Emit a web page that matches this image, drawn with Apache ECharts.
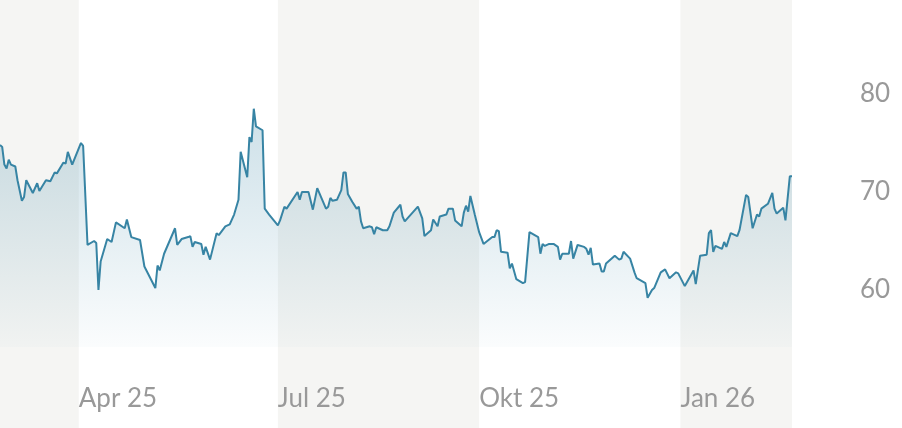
<!DOCTYPE html>
<html>
<head>
<meta charset="utf-8">
<script src="https://cdn.jsdelivr.net/npm/echarts@6/dist/echarts.min.js"></script>
<style>
html,body{margin:0;padding:0;background:#fff;}
#chart{width:902px;height:428px;}
</style>
</head>
<body>
<div id="chart"></div>
<script>
const dates = [
'2025-02-24','2025-02-25','2025-02-26','2025-02-27','2025-02-28','2025-03-01','2025-03-03','2025-03-04','2025-03-06','2025-03-07',
'2025-03-08','2025-03-11','2025-03-13','2025-03-14','2025-03-17','2025-03-19','2025-03-21','2025-03-22','2025-03-25','2025-03-26',
'2025-03-27','2025-03-29','2025-04-02','2025-04-03','2025-04-05','2025-04-08','2025-04-09','2025-04-10','2025-04-11','2025-04-14',
'2025-04-16','2025-04-18','2025-04-22','2025-04-23','2025-04-25','2025-04-29','2025-05-01','2025-05-06','2025-05-07','2025-05-08',
'2025-05-10','2025-05-15','2025-05-16','2025-05-18','2025-05-21','2025-05-22','2025-05-23','2025-05-24','2025-05-27','2025-05-28',
'2025-05-29','2025-05-31','2025-06-03','2025-06-04','2025-06-07','2025-06-09','2025-06-11','2025-06-13','2025-06-14','2025-06-17',
'2025-06-18','2025-06-19','2025-06-20','2025-06-21','2025-06-24','2025-06-25','2025-06-27','2025-07-01','2025-07-02','2025-07-04',
'2025-07-05','2025-07-10','2025-07-11','2025-07-12','2025-07-15','2025-07-17','2025-07-19','2025-07-23','2025-07-24','2025-07-25',
'2025-07-26','2025-07-28','2025-07-30','2025-07-31','2025-08-01','2025-08-02','2025-08-04','2025-08-06','2025-08-07','2025-08-08',
'2025-08-09','2025-08-12','2025-08-13','2025-08-14','2025-08-15','2025-08-18','2025-08-20','2025-08-21','2025-08-23','2025-08-26',
'2025-08-27','2025-08-28','2025-09-03','2025-09-05','2025-09-06','2025-09-09','2025-09-10','2025-09-12','2025-09-13','2025-09-16',
'2025-09-17','2025-09-19','2025-09-20','2025-09-23','2025-09-24','2025-09-25','2025-09-26','2025-09-27','2025-09-29','2025-10-01',
'2025-10-03','2025-10-07','2025-10-08','2025-10-09','2025-10-10','2025-10-11','2025-10-14','2025-10-15','2025-10-16','2025-10-18',
'2025-10-21','2025-10-22','2025-10-24','2025-10-28','2025-10-29','2025-10-30','2025-10-31','2025-11-02','2025-11-04','2025-11-06',
'2025-11-07','2025-11-08','2025-11-11','2025-11-12','2025-11-13','2025-11-15','2025-11-18','2025-11-19','2025-11-20','2025-11-21',
'2025-11-22','2025-11-25','2025-11-26','2025-11-27','2025-11-28','2025-12-02','2025-12-04','2025-12-05','2025-12-06','2025-12-09',
'2025-12-11','2025-12-12','2025-12-16','2025-12-17','2025-12-19','2025-12-20','2025-12-23','2025-12-25','2025-12-27','2025-12-30',
'2025-12-31','2026-01-03','2026-01-07','2026-01-08','2026-01-10','2026-01-13','2026-01-14','2026-01-15','2026-01-16','2026-01-17',
'2026-01-20','2026-01-21','2026-01-22','2026-01-24','2026-01-26','2026-01-27','2026-01-28','2026-01-31','2026-02-01','2026-02-03',
'2026-02-05','2026-02-06','2026-02-07','2026-02-10','2026-02-12','2026-02-13','2026-02-14','2026-02-17','2026-02-18','2026-02-20',
'2026-02-21'
];
const prices = [
74.8,74.6,72.8,72.4,73.3,72.8,72.6,71.2,69.1,69.5,
71.2,69.9,70.9,70.1,71.2,71.1,72.0,71.9,73.0,72.9,
74.1,72.8,75.0,74.7,64.6,65.0,64.8,60.0,62.9,65.2,
64.9,66.9,66.3,67.2,65.4,65.1,62.4,60.2,62.5,62.0,
63.7,66.3,64.6,65.2,65.4,65.5,64.4,64.9,64.7,63.6,
64.4,63.1,65.8,65.6,66.5,66.7,67.7,69.2,74.1,71.5,
75.6,75.1,78.5,76.7,76.3,68.3,67.7,66.6,67.1,68.5,
68.3,70.0,69.2,70.0,70.0,68.2,70.4,68.3,68.5,69.4,
69.1,69.2,70.2,72.0,72.0,69.8,69.0,68.3,68.5,67.0,
66.3,66.5,66.4,65.7,66.4,66.1,66.1,66.5,67.9,68.7,
67.5,67.0,68.5,67.3,65.5,66.1,67.2,66.5,67.5,67.7,
68.3,68.3,67.1,66.5,67.9,68.6,68.0,69.6,67.7,65.9,
64.7,65.4,65.4,66.1,66.0,63.9,63.8,62.2,62.7,61.1,
60.7,60.8,65.9,65.4,63.7,64.7,64.5,64.7,64.7,64.4,
63.1,63.7,63.7,65.0,63.2,64.6,64.4,64.2,63.6,64.3,
62.6,62.7,61.9,61.9,62.7,63.5,63.1,63.2,63.9,63.2,
61.8,61.2,60.7,59.2,60.0,60.2,61.8,62.1,61.2,61.8,
61.7,60.4,62.0,60.6,63.5,63.6,65.8,66.1,63.9,64.5,
64.2,64.9,64.4,65.8,65.6,65.5,66.1,69.7,69.5,66.3,
67.7,67.5,68.3,68.8,69.9,68.3,67.8,68.4,67.1,71.6,
71.6
];
const tickDates = ['2025-04-01','2025-07-01','2025-10-01','2026-01-01'];
const tickLabels = ['Apr 25','Jul 25','Okt 25','Jan 26'];
const yTicks = [60, 70, 80];
const bandStarts = ['2025-02-24','2025-07-01','2026-01-01'];
const bandEnds = ['2025-04-01','2025-10-01','2026-02-21'];

const t = d => +echarts.time.parse(d);
const tickTimes = tickDates.map(t);
const chart = echarts.init(document.getElementById('chart'), null, {renderer:'canvas'});
const fontFamily = 'Lato, "Noto Sans", sans-serif';
chart.setOption({
  animation: false,
  backgroundColor: '#ffffff',
  grid: {left: 0, right: 110, top: 0, bottom: 0, containLabel: false},
  xAxis: {
    type: 'value',
    z: 10,
    min: t(dates[0]),
    max: t(dates[dates.length - 1]),
    axisLine: {show: false},
    axisTick: {show: false},
    splitLine: {show: false},
    axisLabel: {
      inside: true,
      hideOverlap: false,
      customValues: tickTimes,
      margin: 29,
      align: 'left',
      verticalAlign: 'middle',
      color: '#999999',
      fontSize: 26,
      fontWeight: 'normal',
      fontFamily: fontFamily,
      formatter: function (v) {
        const i = tickTimes.indexOf(+v);
        return i >= 0 ? tickLabels[i] : '';
      }
    }
  },
  yAxis: {
    type: 'value',
    z: 10,
    position: 'right',
    min: 45.92,
    max: 89.59,
    axisLine: {show: false},
    axisTick: {show: false},
    splitLine: {show: false},
    axisLabel: {
      customValues: yTicks,
      margin: 68,
      color: '#999999',
      fontSize: 26,
      fontWeight: 'normal',
      fontFamily: fontFamily
    }
  },
  series: [
    {
      type: 'line',
      data: [],
      z: 1,
      silent: true,
      markArea: {
        silent: true,
        itemStyle: {color: '#f5f5f3'},
        data: bandStarts.map((s, i) => [{xAxis: t(s)}, {xAxis: t(bandEnds[i])}])
      }
    },
    {
      type: 'line',
      z: 3,
      data: dates.map((d, i) => [t(d), prices[i]]),
      symbol: 'none',
      smooth: false,
      lineStyle: {color: '#3784a4', width: 2},
      areaStyle: {
        origin: 54.18,
        color: new echarts.graphic.LinearGradient(0, 0, 0, 1, [
          {offset: 0, color: 'rgba(55,132,164,0.36)'},
          {offset: 1, color: 'rgba(55,132,164,0.03)'}
        ])
      }
    }
  ]
});
</script>
</body>
</html>
